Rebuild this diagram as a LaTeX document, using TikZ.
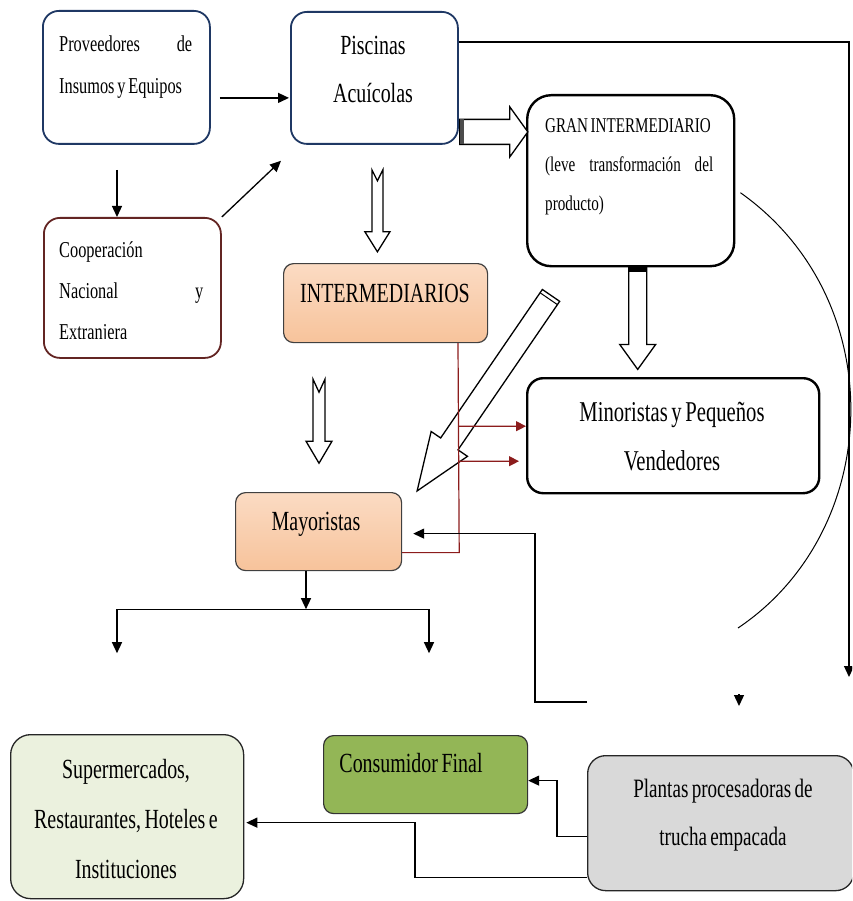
\documentclass[tikz,border=0pt]{standalone}
\usepackage{fontspec}
\setmainfont{Liberation Serif}[FakeStretch=0.72, WordSpace=0.7]
\usetikzlibrary{arrows.meta,calc,positioning}

\definecolor{navyline}{HTML}{1F3864}
\definecolor{coopline}{HTML}{632523}
\definecolor{peachtop}{HTML}{FBDBC3}
\definecolor{peachbot}{HTML}{F7C39B}
\definecolor{olivefill}{HTML}{93B656}
\definecolor{supfill}{HTML}{EBF1DE}
\definecolor{plantfill}{HTML}{D9D9D9}
\definecolor{linkred}{HTML}{8C1C1C}

\newcommand{\sz}[2]{\fontsize{#1}{#2}\selectfont}

% hollow block arrow: tail, angle, length, shaft half, head half, head length, notch, extras
\newcommand{\blockarrow}[8]{%
  \begin{scope}[shift={#1}, rotate=#2]
    \draw[hollow] (0,#4) -- (#3-#6,#4) -- (#3-#6,#5) -- (#3,0) -- (#3-#6,-#5)
      -- (#3-#6,-#4) -- (0,-#4) -- (#7,0) -- cycle;
    #8
  \end{scope}}

\tikzset{
  box/.style={draw, anchor=north west, inner sep=0pt, rounded corners=16pt, line width=1.8pt},
  peachbox/.style={box, draw=black!75, line width=1.2pt, rounded corners=10pt,
    top color=peachtop, bottom color=peachbot},
  txt/.style={inner sep=0pt, anchor=base},
  arr/.style={line width=1.3pt, -{Triangle[length=11pt,width=10pt]}},
  redarr/.style={line width=1.2pt, linkred, -{Triangle[length=10pt,width=10pt]}},
  hollow/.style={draw, fill=white, line width=1.3pt, line join=miter},
}

\begin{document}
\begin{tikzpicture}[x=1pt,y=-1pt]
\clip (0,0) rectangle (852,901);

% cajas
\node[box, navyline, minimum width=167pt, minimum height=133pt] (prov) at (42,10) {};
\node[box, navyline, minimum width=167pt, minimum height=132pt] (pisc) at (290,11) {};
\node[box, coopline, minimum width=177pt, minimum height=140pt] (coop) at (43,217) {};
\node[box, line width=2.4pt, rounded corners=24pt, minimum width=207pt, minimum height=171pt] (gran) at (526,94) {};
\node[peachbox, minimum width=204pt, minimum height=79pt] (inter) at (283,263) {};
\node[box, line width=2.4pt, minimum width=292pt, minimum height=115pt] (minor) at (526,377) {};
\node[peachbox, minimum width=166pt, minimum height=78pt] (mayor) at (235,492) {};
\node[box, draw=black!80, fill=olivefill, line width=1.2pt, rounded corners=10pt,
  minimum width=204pt, minimum height=78pt] (cons) at (323,735) {};
\node[box, draw=black!85, fill=supfill, line width=1.3pt, rounded corners=20pt,
  minimum width=233pt, minimum height=164pt] (super) at (10,734) {};
\node[box, draw=black!85, fill=plantfill, line width=1.3pt, rounded corners=18pt,
  minimum width=266pt, minimum height=135pt] (plantas) at (587,755) {};

% textos (anclados en la linea base de su ultima linea)
\node[txt, anchor=base west, align=left, font=\sz{22.7}{42}] (prov-t) at (59,94)
  {\makebox[133pt][s]{Proveedores\hfill de}\\Insumos y Equipos};
\node[txt, align=center, font=\sz{27.7}{48}] (pisc-t) at (373,103) {Piscinas\\Acuícolas};
\begin{scope}
  \clip (0,0) rectangle (852,338);
  \node[txt, anchor=base west, align=left, font=\sz{22.7}{41}] (coop-t) at (59,339)
    {Cooperación\\\makebox[144pt][s]{Nacional\hfill y}\\Extranjera};
\end{scope}
\node[txt, anchor=base west, align=left, font=\sz{21}{39}] (gran-t) at (545,211)
  {GRAN INTERMEDIARIO\\\makebox[168pt][s]{(leve\hfill transformación\hfill del}\\producto)};
\node[txt, font=\sz{27.7}{30}] (inter-t) at (385,302) {INTERMEDIARIOS};
\node[txt, align=center, font=\sz{28.7}{49}] (minor-t) at (672,470)
  {Minoristas y Pequeños\\Vendedores};
\node[txt, font=\sz{27.7}{30}] (mayor-t) at (316,530) {Mayoristas};
\node[txt, font=\sz{27.7}{30}] (cons-t) at (411,772) {Consumidor Final};
\node[txt, align=center, font=\sz{27.7}{50}] (super-t) at (126,878)
  {Supermercados,\\Restaurantes, Hoteles e\\Instituciones};
\node[txt, align=center, font=\sz{26.5}{48}] (plantas-t) at (723,845)
  {Plantas procesadoras de\\trucha empacada};

% flechas de insumos
\draw[arr] ($(prov.east)+(9,20.5)$) -- ($(pisc.west)+(-1,20)$);
\draw[arr] ($(prov.south west)+(75,25)$) -- ($(coop.north west)+(74,0)$);
\draw[arr] (coop.north east) -- ($(pisc.south west)+(-9,16)$);

% flechas huecas
\blockarrow{($(pisc.south)+(3,25)$)}{-90}{82}{5.5}{12.5}{20}{11}{}
\blockarrow{($(inter.south west)+(36,36)$)}{-90}{84}{6}{13}{22}{13}{}
\blockarrow{($(pisc.east)+(1,54)$)}{0}{68}{12.5}{25}{18}{0}{\fill[black!70] (0,-12.5) rectangle (4,12.5);}
\blockarrow{($(gran.south)+(7,0)$)}{-90}{102}{9}{18}{25}{0}{\fill (0,-9) rectangle (5,9);}
\blockarrow{($(gran.south west)+(25,28)$)}{-124.4}{237}{10.5}{22}{57}{0}{\draw[line width=1pt] (4,-10.5) -- (4,10.5);}

% lineas rojas
\coordinate (r0) at ($(inter.south west)+(175,0)$);
\draw[linkred, line width=1.2pt] (r0) -- ($(mayor.east)+(57,21)$) -- ($(mayor.east)+(0,21)$);
\draw[redarr] ($(r0)+(0,83)$) -- ($(minor.west)+(0,-9.5)$);
\draw[redarr] ($(r0)+(0,118)$) -- ($(minor.west)+(-7,25.5)$);

% hacia mayoristas y su reparto
\coordinate (m0) at (587,702);
\draw[arr] (m0) -- ++(-52,0) |- ($(mayor.east)+(11,2)$);
\draw[arr] ($(mayor.south west)+(71,0)$) -- ++(0,38) coordinate (mj);
\draw[arr] (mj) -- ++(-189,0) -- ++(0,44);
\draw[arr] (mj) -- ++(123,0) -- ++(0,44);

% borde derecho y curva del gran intermediario
\coordinate (rt) at (849,677);
\draw[arr] ($(pisc.north east)+(0,31)$) -| (rt);
\coordinate (c0) at (738,628);
\coordinate (c1) at (739,706);
\draw[line width=1pt] ($(gran.east)+(5,12)$) .. controls (892,300) and (884,530) .. (c0);
\draw[arr] ($(c1)+(0,-12)$) -- (c1);

% plantas procesadoras
\draw[arr] ($(plantas.west)+(0,13.5)$) -- ++(-30,0) |- ($(cons.east)+(0,6)$);
\draw[arr] ($(plantas.west)+(0,54.5)$) -- ++(-172,0) |- ($(super.east)+(2,6)$);
\end{tikzpicture}
\end{document}
